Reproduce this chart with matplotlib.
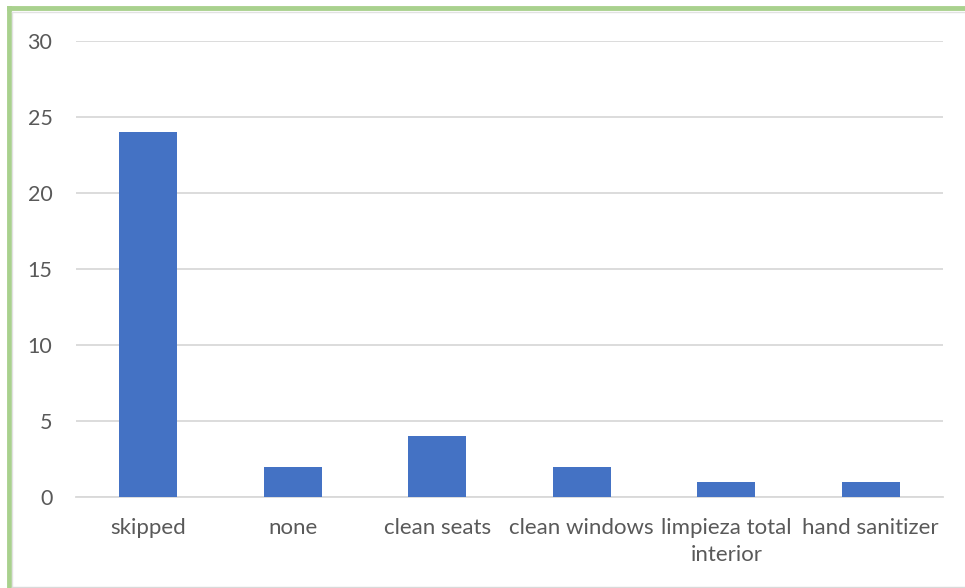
import matplotlib.pyplot as plt
from matplotlib.lines import Line2D

# -------------------------
# DATA
# -------------------------
categories = ["skipped", "none", "clean seats", "clean windows",
              "limpieza total\ninterior", "hand sanitizer"]
counts = [24, 2, 4, 2, 1, 1]
y_ticks = [0, 5, 10, 15, 20, 25, 30]

plt.rcParams['font.family'] = ['Lato', 'DejaVu Sans']

fig = plt.figure(figsize=(9.65, 5.88), dpi=100)
ax = fig.add_axes([76 / 965, 1 - 497 / 588, (943 - 76) / 965, (497 - 41) / 588])

x = range(len(categories))
ax.bar(x, counts, width=0.4, color="#4472C4", zorder=3)

ax.set_xlim(-0.5, len(categories) - 0.5)
ax.set_ylim(0, 30)
ax.set_yticks(y_ticks)
ax.set_xticks(list(x))
ax.set_xticklabels(categories, fontsize=16, color="#595959", linespacing=1.45)
ax.tick_params(axis="y", labelsize=15.5, labelcolor="#595959", length=0, pad=17)
ax.tick_params(axis="x", length=0, pad=15)
ax.grid(axis="y", color="#D9D9D9", linewidth=1.3, zorder=0)
for s in ["top", "right", "left"]:
    ax.spines[s].set_visible(False)
ax.spines["bottom"].set_color("#D9D9D9")
ax.spines["bottom"].set_linewidth(1.3)

# -------------------------
# FRAME (green border, cropped)
# -------------------------
W, H = 965, 588
fig.add_artist(Line2D([9 / W, 1.01], [1 - 8 / H, 1 - 8 / H], color="#A9D18E",
                      linewidth=3.5, transform=fig.transFigure))
fig.add_artist(Line2D([9 / W, 9 / W], [1 - 8 / H, -0.01], color="#A9D18E",
                      linewidth=3.5, transform=fig.transFigure))
fig.add_artist(Line2D([12 / W, 1.01], [1 - 11.5 / H, 1 - 11.5 / H], color="#E2E2E2",
                      linewidth=1, transform=fig.transFigure))
fig.add_artist(Line2D([12 / W, 12 / W], [1 - 11.5 / H, -0.01], color="#E2E2E2",
                      linewidth=1, transform=fig.transFigure))
fig.add_artist(Line2D([12 / W, 1.01], [1 - 586.5 / H, 1 - 586.5 / H], color="#D9D9D9",
                      linewidth=1, transform=fig.transFigure))

fig.savefig("out.png", dpi=100)
